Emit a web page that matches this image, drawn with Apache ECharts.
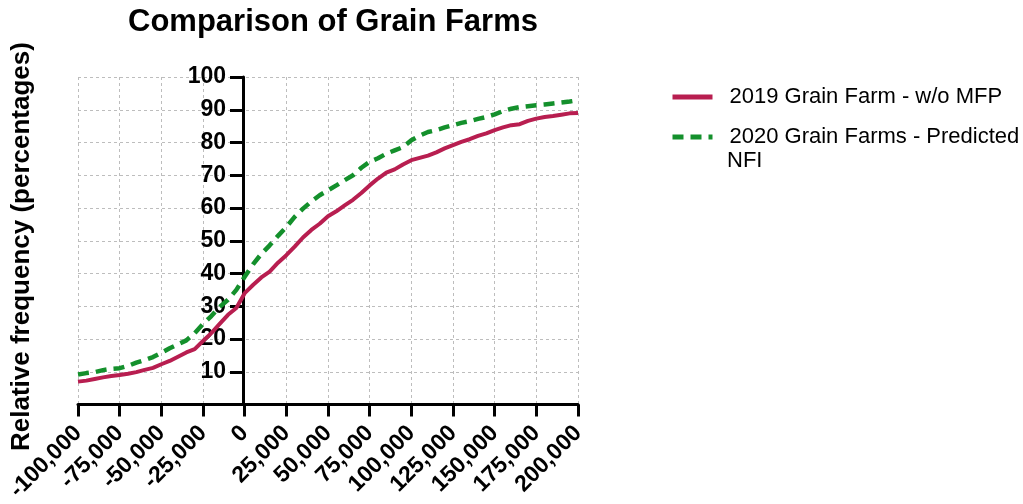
<!DOCTYPE html>
<html>
<head>
<meta charset="utf-8">
<script src="https://cdn.jsdelivr.net/npm/echarts@6/dist/echarts.min.js"></script>
<style>html,body{margin:0;padding:0;background:#fff}#c{width:1023px;height:504px}</style>
</head>
<body>
<div id="c"></div>
<script>
const xValues = [-100000,-95000,-90000,-85000,-80000,-75000,-70000,-65000,-60000,-55000,-50000,-45000,-40000,-35000,-30000,-25000,-20000,-15000,-10000,-5000,0,5000,10000,15000,20000,25000,30000,35000,40000,45000,50000,55000,60000,65000,70000,75000,80000,85000,90000,95000,100000,105000,110000,115000,120000,125000,130000,135000,140000,145000,150000,155000,160000,165000,170000,175000,180000,185000,190000,195000,200000];
const farms2019 = [7.0,7.3,7.8,8.3,8.7,9.0,9.4,9.9,10.6,11.2,12.3,13.3,14.6,15.9,16.9,19.4,21.8,24.6,27.4,29.5,34.0,36.5,38.8,40.6,43.3,45.6,48.2,51.0,53.3,55.2,57.5,59.0,60.8,62.5,64.6,66.9,69.0,70.8,71.8,73.3,74.6,75.3,76.0,77.0,78.2,79.2,80.2,81.0,82.0,82.8,83.8,84.6,85.3,85.6,86.6,87.3,87.8,88.1,88.5,88.9,89.0];
const farms2020 = [9.2,9.6,9.9,10.5,10.9,11.1,11.8,12.8,13.6,14.5,15.8,17.2,18.4,19.6,21.8,24.6,27.0,29.8,32.0,35.0,39.0,42.8,46.0,48.6,51.5,54.2,57.3,59.8,62.0,63.9,65.4,66.9,68.5,70.0,72.3,74.1,75.2,76.6,77.6,78.6,80.7,82.1,83.2,83.8,84.6,85.3,86.0,86.5,87.2,87.8,88.6,89.6,90.3,90.8,91.1,91.4,91.6,91.9,92.2,92.5,92.9];
const seriesNames = ['2019 Grain Farm - w/o MFP', '2020 Grain Farms - Predicted NFI'];
const legendWrapWord = 'NFI';
const titleText = 'Comparison of Grain Farms';
const yTitle = 'Relative frequency (percentages)';

const FONT = '"Liberation Sans", Arial, sans-serif';
const chart = echarts.init(document.getElementById('c'));
chart.setOption({
  animation: false,
  backgroundColor: '#fff',
  title: {
    text: titleText, left: 328, top: 2, textAlign: 'center',
    textStyle: { fontFamily: FONT, fontWeight: 'bold', fontSize: 31, color: '#000' }
  },
  graphic: [{
    type: 'text', rotation: Math.PI / 2, x: 9, y: 451,
    style: { text: yTitle, font: 'bold 26px "Liberation Sans", Arial, sans-serif', fill: '#000', textVerticalAlign: 'top' }
  }, {
    type: 'text', x: 727, y: 150,
    style: { text: legendWrapWord, font: '22px "Liberation Sans", Arial, sans-serif', fill: '#000', textVerticalAlign: 'top' }
  }],
  legend: {
    orient: 'vertical', left: 665, top: 79, itemWidth: 40, itemHeight: 14, itemGap: 14,
    itemStyle: { opacity: 0 },
    lineStyle: { width: 5 },
    textStyle: { fontFamily: FONT, fontSize: 22, color: '#000', padding: [0,0,0,12], lineHeight: 26 },
    formatter: n => n.replace(' ' + legendWrapWord, ''),
    data: seriesNames
  },
  grid: { left: 78, right: 445, top: 77, bottom: 99 },
  xAxis: {
    type: 'value', min: -100000, max: 200000, interval: 25000,
    axisLine: { onZero: false, lineStyle: { color: '#000', width: 3 } },
    axisTick: { length: 12, lineStyle: { color: '#000', width: 3 } },
    axisLabel: {
      rotate: 45, margin: 25, fontFamily: FONT, fontWeight: 'bold', fontSize: 23, color: '#000',
      formatter: v => v.toLocaleString('en-US')
    },
    splitLine: { show: true, lineStyle: { type: [3, 3], color: '#bdbdbd', width: 1 } }
  },
  yAxis: {
    type: 'value', min: 0, max: 100, interval: 10, offset: -165,
    axisLine: { show: true, onZero: false, lineStyle: { color: '#000', width: 3 } },
    axisTick: { show: true, length: 13, lineStyle: { color: '#000', width: 3 } },
    axisLabel: {
      margin: 17, fontFamily: FONT, fontWeight: 'bold', fontSize: 23, color: '#000',
      formatter: v => v === 0 ? '' : String(v)
    },
    splitLine: { show: true, lineStyle: { type: [3, 3], color: '#bdbdbd', width: 1 } }
  },
  series: [
    {
      name: seriesNames[0], type: 'line', symbol: 'none',
      data: xValues.map((x, i) => [x, farms2019[i]]),
      lineStyle: { color: '#B81E50', width: 4 }, itemStyle: { color: '#B81E50' }, z: 3
    },
    {
      name: seriesNames[1], type: 'line', symbol: 'none',
      data: xValues.map((x, i) => [x, farms2020[i]]),
      lineStyle: { color: '#14902C', width: 4.5, type: [11, 7] }, itemStyle: { color: '#14902C' }, z: 2
    }
  ]
});
</script>
</body>
</html>
